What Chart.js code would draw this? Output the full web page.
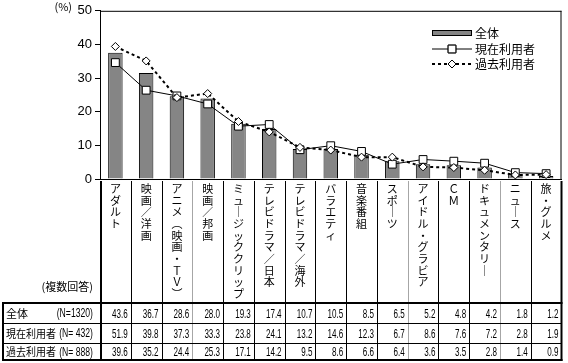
<!DOCTYPE html>
<html>
<head>
<meta charset="utf-8">
<script src="https://cdn.jsdelivr.net/npm/chart.js@4"></script>
<style>
  html, body { margin: 0; padding: 0; background: #fff; }
  #wrap { width: 568px; height: 363px; }
</style>
</head>
<body>
<div id="wrap"><canvas id="genreChart" width="568" height="363"></canvas></div>
<script>
// ---- data ----
const categories = [
  "アダルト", "映画／洋画", "アニメ（映画・ＴＶ）", "映画／邦画", "ミュージッククリップ",
  "テレビドラマ／日本", "テレビドラマ／海外", "バラエティ", "音楽番組", "スポーツ",
  "アイドル・グラビア", "ＣＭ", "ドキュメンタリー", "ニュース", "旅・グルメ"
];
const overallBars  = [37.5, 31.5, 24.6, 23.9, 16.4, 14.9, 8.9, 8.9, 7.2, 5.3, 4.4, 4.1, 3.4, 1.5, 0.9];
const currentUsers = [34.6, 26.4, 24.7, 22.3, 15.7, 16.2, 8.7, 9.9, 8.2, 4.4, 5.8, 5.3, 4.7, 1.9, 1.6];
const pastUsers    = [39.4, 35.1, 24.2, 25.4, 17.1, 14.0, 9.4, 8.6, 6.5, 6.5, 3.6, 3.4, 2.6, 1.2, 1.3];
const yTicks = [0, 10, 20, 30, 40, 50];

// table under the chart
const seriesNames = ["全体", "現在利用者", "過去利用者"];
const seriesN = ["(N=1320)", "(N= 432)", "(N= 888)"];
const tableOverall = [43.6, 36.7, 28.6, 28.0, 19.3, 17.4, 10.7, 10.5, 8.5, 6.5, 5.2, 4.8, 4.2, 1.8, 1.2];
const tableCurrent = [51.9, 39.8, 37.3, 33.3, 23.8, 24.1, 13.2, 14.6, 12.3, 6.7, 8.6, 7.6, 7.2, 2.8, 1.9];
const tablePast    = [39.6, 35.2, 24.4, 25.3, 17.1, 14.2, 9.5, 8.6, 6.6, 6.4, 3.6, 3.5, 2.8, 1.4, 0.9];

const JP = "'Noto Sans CJK JP', 'Noto Sans', sans-serif";
const NUM = "'Liberation Sans', 'DejaVu Sans', sans-serif";

// vertical writing: one char per line, swap a few glyphs for their vertical forms
const VERT = { "ー": "｜", "（": "︵", "）": "︶" };
const toVertical = s => Array.from(s).map(c => VERT[c] || c);

function hline(ctx, x1, x2, y) { ctx.beginPath(); ctx.moveTo(x1, y); ctx.lineTo(x2, y); ctx.stroke(); }
function vline(ctx, x, y1, y2) { ctx.beginPath(); ctx.moveTo(x, y1); ctx.lineTo(x, y2); ctx.stroke(); }

// right-aligned text squeezed horizontally (narrow table digits)
function narrowText(ctx, text, x, y, sx) {
  ctx.save();
  ctx.translate(x, y);
  ctx.scale(sx, 1);
  ctx.textAlign = "right";
  ctx.fillText(text, 0, 0);
  ctx.restore();
}

const frameAndTable = {
  id: "frameAndTable",
  afterDraw(chart) {
    const { ctx, chartArea: a } = chart;
    const xs = chart.scales.x;
    const half = (xs.getPixelForValue(1) - xs.getPixelForValue(0)) / 2;
    const tTop = 303, tBot = 360, rowLines = [323.5, 343.5], rowMid = [314, 334, 352.5];
    const grayEdges = [3, 10, 13];

    ctx.save();
    ctx.strokeStyle = "#000";

    // plot frame (top / right)
    ctx.lineWidth = 1;
    hline(ctx, a.left, a.right, a.top + 0.5);
    vline(ctx, a.right - 0.5, a.top, a.bottom);

    // column separators through label area + table
    for (let i = 1; i < categories.length; i++) {
      const bx = Math.round(xs.getPixelForValue(i) - half) + 0.5;
      ctx.strokeStyle = grayEdges.includes(i) ? "#a6a6a6" : "#000";
      vline(ctx, bx, a.bottom + 2, tBot);
    }
    ctx.strokeStyle = "#000";
    ctx.lineWidth = 2;
    vline(ctx, a.left + 1, a.bottom + 2, tBot + 1);
    vline(ctx, a.right, a.bottom + 2, tBot + 1);
    vline(ctx, 3, tTop, tBot + 1);
    hline(ctx, 2, a.right + 1, tTop);
    hline(ctx, 2, a.right + 1, tBot);
    ctx.lineWidth = 1;
    rowLines.forEach(y => hline(ctx, 3, a.right, y));

    // table text
    const rows = [tableOverall, tableCurrent, tablePast];
    ctx.fillStyle = "#000";
    ctx.textBaseline = "middle";
    rows.forEach((vals, r) => {
      ctx.font = "11px " + JP;
      ctx.textAlign = "left";
      ctx.fillText(seriesNames[r], 6, rowMid[r] - 0.5, 50);
      ctx.font = "12px " + NUM;
      narrowText(ctx, seriesN[r], 93, rowMid[r], 0.72);
      ctx.font = "13px " + NUM;
      vals.forEach((v, i) => {
        narrowText(ctx, v.toFixed(1), xs.getPixelForValue(i) + half - 3, rowMid[r], 0.62);
      });
    });

    // axis notes
    ctx.font = "11px " + JP;
    ctx.textAlign = "right";
    ctx.fillText("(%)", 72, 7);
    ctx.fillText("(複数回答)", 93, 287);

    // legend
    const lx = 432, lw = 40, ly = [33, 49, 64];
    chart.data.datasets.forEach((ds, k) => {
      const y = ly[k];
      ctx.strokeStyle = "#000";
      ctx.lineWidth = 1;
      ctx.setLineDash([]);
      if (ds.type === "bar") {
        ctx.fillStyle = ds.backgroundColor;
        ctx.fillRect(lx, y - 2.5, lw, 5);
        ctx.strokeRect(lx + 0.5, y - 2.5, lw - 1, 5);
      } else {
        ctx.lineWidth = ds.borderWidth;
        ctx.setLineDash(ds.borderDash || []);
        hline(ctx, lx, lx + lw, y);
        ctx.setLineDash([]);
        ctx.lineWidth = 1;
        Chart.helpers.drawPoint(ctx, {
          pointStyle: ds.pointStyle, radius: ds.pointRadius, borderWidth: 1, rotation: 0
        }, lx + lw / 2, y);
        ctx.fillStyle = "#fff";
        ctx.fill();
        ctx.stroke();
      }
      ctx.fillStyle = "#000";
      ctx.font = "12px " + JP;
      ctx.textAlign = "left";
      ctx.fillText(ds.label, lx + lw + 3, y);
    });
    ctx.restore();
  }
};

const ctx = document.getElementById("genreChart").getContext("2d");

new Chart(ctx, {
  type: "bar",
  data: {
    labels: categories.map(toVertical),
    datasets: [
      {
        type: "bar",
        label: seriesNames[0],
        data: overallBars,
        backgroundColor: "#858585",
        borderColor: "#000",
        borderWidth: 1,
        barPercentage: 0.47,
        categoryPercentage: 1,
        order: 3
      },
      {
        type: "line",
        label: seriesNames[1],
        data: currentUsers,
        borderColor: "#000",
        borderWidth: 1,
        pointStyle: "rect",
        pointRadius: 5.5,
        pointBackgroundColor: "#fff",
        pointBorderColor: "#000",
        pointBorderWidth: 1,
        tension: 0,
        order: 2
      },
      {
        type: "line",
        label: seriesNames[2],
        data: pastUsers,
        borderColor: "#000",
        borderWidth: 2,
        borderDash: [3, 3],
        pointStyle: "rectRot",
        pointRadius: 4,
        pointBackgroundColor: "#fff",
        pointBorderColor: "#000",
        pointBorderWidth: 1,
        tension: 0,
        order: 1
      }
    ]
  },
  options: {
    responsive: false,
    animation: false,
    layout: { padding: { top: 7, right: 2, bottom: 60, left: 0 } },
    plugins: { legend: { display: false }, tooltip: { enabled: false } },
    scales: {
      x: {
        grid: { display: false, drawTicks: false },
        border: { display: true, color: "#000", width: 1 },
        ticks: {
          autoSkip: false, maxRotation: 0, minRotation: 0, padding: 4,
          color: "#000", font: { family: JP, size: 11, lineHeight: 1.06 }
        },
        afterFit: s => { s.height = 124; }
      },
      y: {
        min: yTicks[0],
        max: yTicks[yTicks.length - 1],
        afterBuildTicks: s => { s.ticks = yTicks.map(v => ({ value: v })); },
        grid: { drawOnChartArea: false, drawTicks: true, tickLength: 5, color: "#000" },
        border: { display: true, color: "#000", width: 1 },
        ticks: { padding: 3, color: "#000", font: { family: NUM, size: 13 } },
        afterFit: s => { s.width = 100; }
      }
    }
  },
  plugins: [frameAndTable]
});
</script>
</body>
</html>
